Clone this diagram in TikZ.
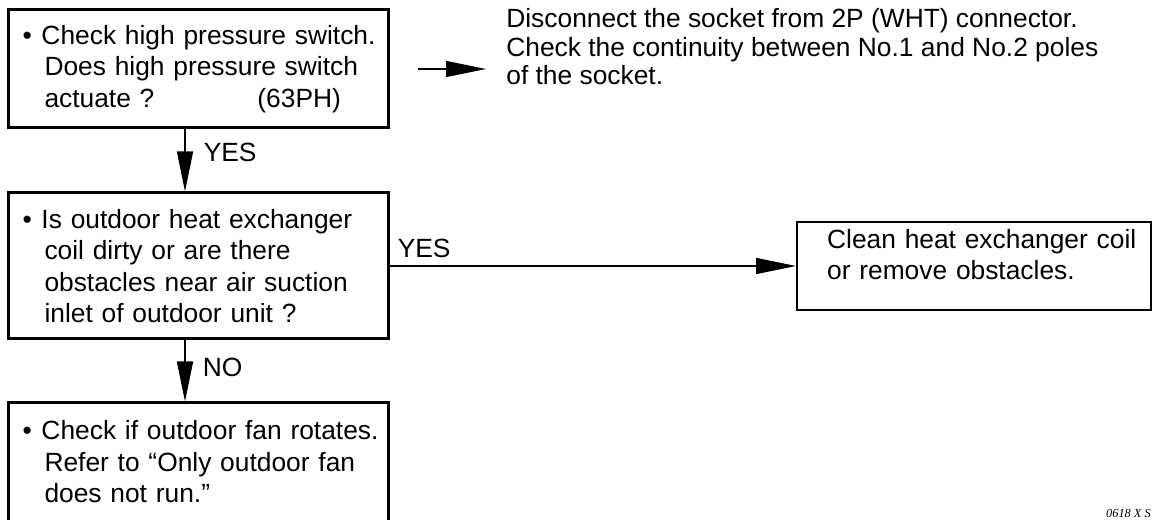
\documentclass[tikz,border=0pt]{standalone}
\usepackage{fontspec}
\setmainfont{Liberation Sans}
\newfontfamily\tagfont{Liberation Serif}
\usepackage{tikz}
\usetikzlibrary{positioning,arrows.meta,calc}
\tikzset{
  box/.style={rectangle,draw,line width=0.06cm,minimum width=7.6cm,
    text width=7.3cm,align=left,inner xsep=0.15cm,inner ysep=0.1cm,
    font=\fontsize{15}{17.9}\selectfont},
  endbox/.style={rectangle,draw,line width=0.045cm,minimum width=7.08cm,
    minimum height=1.76cm,text width=6.6cm,align=left,inner xsep=0.24cm,
    font=\fontsize{15}{17.9}\selectfont},
  note/.style={align=left,inner sep=0pt,font=\fontsize{15}{16.2}\selectfont},
  lbl/.style={inner sep=0pt,font=\fontsize{15}{18}\selectfont},
  fl/.style={-{Triangle[length=0.8cm,width=0.32cm]},line width=0.03cm},
}
\newcommand{\bul}{\hspace*{0.14cm}\makebox[0.38cm][l]{\textbullet}}
\newcommand{\indline}{\hspace*{0.58cm}}

\begin{document}
\begin{tikzpicture}
  \useasboundingbox (0,0) rectangle (23.06,-10.4);
  \node[box,minimum height=2.36cm] (chk) at (3.96,-1.38)
    {\bul Check high pressure switch.\\\indline Does high pressure switch\\\indline actuate ?\hspace{2.06cm}(63PH)};
  \node[box,minimum height=2.92cm,below=1.24cm of chk] (coil)
    {\bul Is outdoor heat exchanger\\\indline coil dirty or are there\\\indline obstacles near air suction\\\indline inlet of outdoor unit ?};
  \node[box,minimum height=2.46cm,below=1.22cm of coil] (fan)
    {\bul Check if outdoor fan rotates.\\\indline Refer to “Only outdoor fan\\\indline does not run.”\rule[-0.12cm]{0pt}{0.12cm}};
  \node[endbox,right=8.13cm of coil] (clean)
    {\hspace*{0.36cm}Clean heat exchanger coil\\\hspace*{0.36cm}or remove obstacles.\rule[-0.46cm]{0pt}{0.46cm}};
  \coordinate[right=0.57cm of chk] (a0);
  \coordinate[right=1.36cm of a0] (a1);
  \node[note,anchor=north west] (sock) at ($(a1)+(0.4,1.21)$)
    {Disconnect the socket from 2P (WHT) connector.\\Check the continuity between No.1 and No.2 poles\\of the socket.};
  \node[lbl,anchor=base east] (tag) at (23.02,-10.34)
    {\tagfont\itshape\fontsize{7}{8}\selectfont 0618 X S};
  \draw[fl] ([xshift=-0.26cm]chk.south) -- node[lbl,pos=0.37,right=0.36cm] (y1) {YES} ([xshift=-0.26cm]coil.north);
  \draw[fl] ([xshift=-0.26cm]coil.south) -- node[lbl,pos=0.44,right=0.34cm] (n1) {NO} ([xshift=-0.26cm]fan.north);
  \draw[fl] (coil) -- node[lbl,pos=0,above right=0.14cm and 0.15cm] (y2) {YES} (clean);
  \draw[fl] (a0) -- (a1);
\end{tikzpicture}
\end{document}
